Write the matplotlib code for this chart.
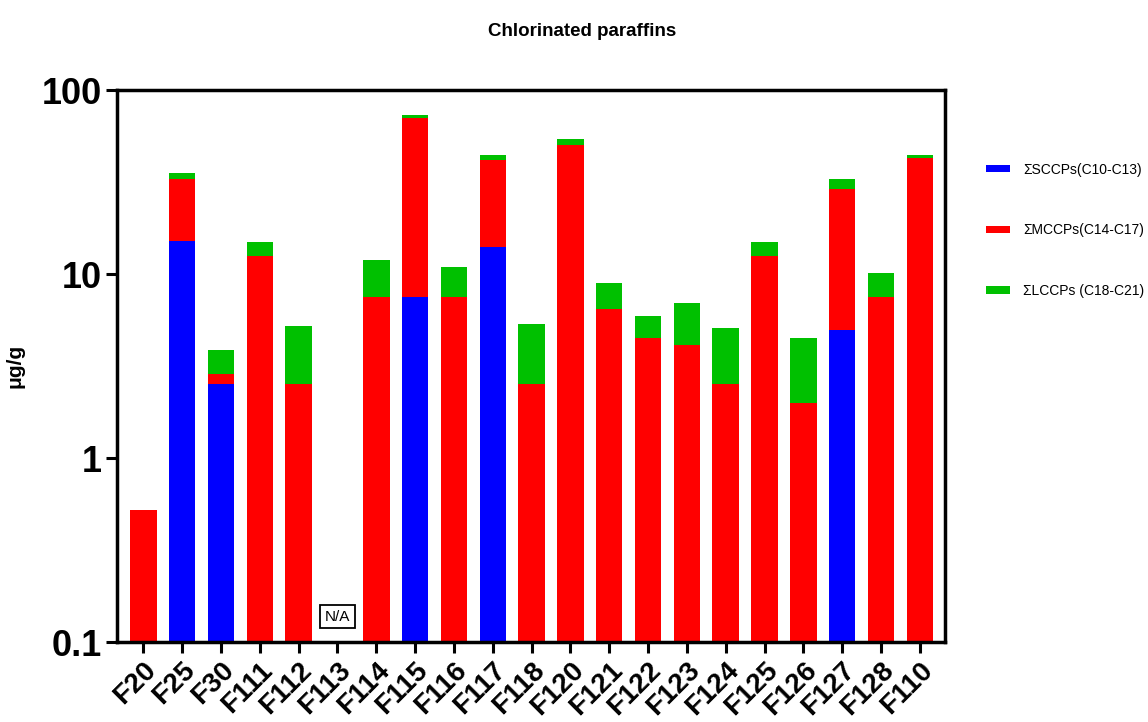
import matplotlib.pyplot as plt
import numpy as np

# dados (µg/g)
samples = ['F20', 'F25', 'F30', 'F111', 'F112', 'F113', 'F114', 'F115', 'F116', 'F117', 'F118',
           'F120', 'F121', 'F122', 'F123', 'F124', 'F125', 'F126', 'F127', 'F128', 'F110']
sccp = [0, 15.1, 2.52, 0, 0, 0, 0, 7.5, 0, 14.1, 0, 0, 0, 0, 0, 0, 0, 0, 5.0, 0, 0]
mccp = [0.52, 17.7, 0.36, 12.6, 2.52, 0, 7.5, 63.1, 7.5, 27.5, 2.52,
        50.2, 6.5, 4.5, 4.1, 2.52, 12.6, 2.0, 24.1, 7.5, 42.9]
lccp = [0, 2.7, 0.98, 2.4, 2.7, 0, 4.5, 2.3, 3.5, 2.7, 2.85,
        4.4, 2.5, 1.45, 2.85, 2.55, 2.4, 2.47, 3.9, 2.7, 1.8]
labels = ['\u03a3SCCPs(C10-C13)', '\u03a3MCCPs(C14-C17)', '\u03a3LCCPs (C18-C21)']
colors = ['#0000ff', '#ff0000', '#00c000']
na_sample = 'F113'

plt.rcParams['font.family'] = ['Liberation Sans', 'DejaVu Sans']

fig = plt.figure(figsize=(11.48, 7.22), dpi=100)
ax = fig.add_axes([0.1019, 0.1108, 0.7213, 0.7642])

x = np.arange(len(samples))
s = np.array(sccp)
m = np.array(mccp)
l = np.array(lccp)
w = 0.68
ax.bar(x, s, width=w, color=colors[0], label=labels[0])
ax.bar(x, m, width=w, bottom=s, color=colors[1], label=labels[1])
ax.bar(x, l, width=w, bottom=s + m, color=colors[2], label=labels[2])

ax.set_yscale('log')
ax.set_ylim(0.1, 100)
ax.set_xlim(-0.68, len(samples) - 0.35)
ax.set_yticks([0.1, 1, 10, 100])
ax.set_yticklabels(['0.1', '1', '10', '100'], fontsize=26, fontweight='bold')
ax.yaxis.set_minor_locator(plt.NullLocator())
ax.set_xticks(x)
ax.set_xticklabels(samples, fontsize=20, fontweight='bold', rotation=45,
                   ha='right', rotation_mode='anchor')
ax.tick_params(axis='both', length=8, width=2.2, pad=3)
for sp in ax.spines.values():
    sp.set_linewidth(2.5)
ax.set_ylabel('\u03bcg/g', fontsize=15, fontweight='bold', labelpad=12)

# caixa N/A
ax.text(samples.index(na_sample), 0.137, 'N/A', ha='center', va='center', fontsize=11,
        bbox=dict(boxstyle='square,pad=0.3', fc='white', ec='black', lw=1.3))

fig.text(0.507, 0.956, 'Chlorinated paraffins', ha='center', va='center',
         fontsize=13.5, fontweight='bold')

fig.legend(loc='upper left', bbox_to_anchor=(0.848, 0.792), frameon=False,
           fontsize=10, handlelength=1.7, handleheight=0.45, labelspacing=3.35,
           handletextpad=0.95)

fig.savefig('out.png', dpi=100)
